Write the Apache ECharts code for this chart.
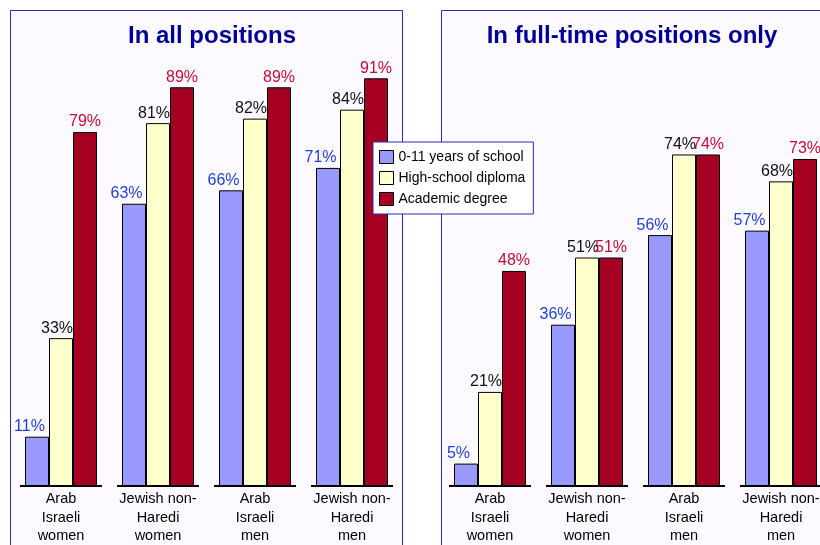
<!DOCTYPE html>
<html>
<head>
<meta charset="utf-8">
<script src="https://cdn.jsdelivr.net/npm/echarts@6/dist/echarts.min.js"></script>
<style>
  html, body { margin: 0; padding: 0; background: #fff; }
  #chart { width: 820px; height: 545px; }
</style>
</head>
<body>
<div id="chart"></div>
<script>
// categories shared by both panels
const groups = ["Arab\nIsraeli\nwomen", "Jewish non-\nHaredi\nwomen", "Arab\nIsraeli\nmen", "Jewish non-\nHaredi\nmen"];
const seriesNames = ["0-11 years of school", "High-school diploma", "Academic degree"];

// in all positions
const allBasic = [11, 63, 66, 71];
const allDiploma = [33, 81, 82, 84];
const allDegree = [79, 89, 89, 91];

// in full-time positions only
const ftBasic = [5, 36, 56, 57];
const ftDiploma = [21, 51, 74, 68];
const ftDegree = [48, 51, 74, 73];

const FONT = "Liberation Sans, Arial, sans-serif";
const barFill = ["#9999ff", "#ffffcc", "#a50021"];
const labelColor = ["#1f3fd8", "#111111", "#c00d35"];
const labelShift = [-7.5, -4, 0];

function bars(gridIdx, values, k) {
  return {
    name: seriesNames[k],
    type: "bar",
    xAxisIndex: gridIdx,
    yAxisIndex: gridIdx,
    data: values,
    barWidth: 24,
    barGap: 0,
    itemStyle: { color: barFill[k], borderColor: "#000", borderWidth: 1 },
    label: {
      show: true,
      position: "top",
      distance: 2,
      offset: [labelShift[k], 0],
      formatter: "{c}%",
      color: labelColor[k],
      fontSize: 16,
      fontFamily: FONT
    },
    emphasis: { disabled: true },
    animation: false
  };
}

// base line drawn as one short segment under each group
function baseLine(gridIdx) {
  return {
    type: "custom",
    xAxisIndex: gridIdx,
    yAxisIndex: gridIdx,
    data: groups.map((g, i) => [i, 0]),
    silent: true,
    z: 5,
    renderItem: function (params, api) {
      const p = api.coord([api.value(0), 0]);
      const bw = api.size([1, 0])[0];
      const inset = 7.5;
      return {
        type: "line",
        shape: { x1: p[0] - bw / 2 + inset, y1: p[1], x2: p[0] + bw / 2 - inset, y2: p[1] },
        style: { stroke: "#000", lineWidth: 2 }
      };
    },
    animation: false
  };
}

function catAxis(gridIdx) {
  return {
    type: "category",
    gridIndex: gridIdx,
    data: groups,
    axisLine: { show: false },
    axisTick: { show: false },
    axisLabel: {
      interval: 0,
      margin: 4,
      color: "#000",
      fontSize: 14.5,
      lineHeight: 18.5,
      fontFamily: FONT
    }
  };
}

function valAxis(gridIdx) {
  return { type: "value", gridIndex: gridIdx, min: 0, max: 100, show: false, splitLine: { show: false } };
}

const chart = echarts.init(document.getElementById("chart"));
chart.setOption({
  backgroundColor: "#fff",
  animation: false,
  graphic: [
    { type: "rect", z: -10, shape: { x: 10.5, y: 10.5, width: 392, height: 580 },
      style: { fill: "#fdfaff", stroke: "#2a2ab8", lineWidth: 1 } },
    { type: "rect", z: -10, shape: { x: 441.5, y: 10.5, width: 420, height: 580 },
      style: { fill: "#fdfaff", stroke: "#2a2ab8", lineWidth: 1 } }
  ],
  title: [
    { text: "In all positions", left: 207, top: 19, textAlign: "center",
      textStyle: { color: "#000099", fontSize: 24, fontWeight: "bold", fontFamily: FONT } },
    { text: "In full-time positions only", left: 627, top: 19, textAlign: "center",
      textStyle: { color: "#000099", fontSize: 24, fontWeight: "bold", fontFamily: FONT } }
  ],
  legend: {
    data: seriesNames,
    orient: "vertical",
    left: 373,
    top: 142,
    padding: [8, 8, 8, 6],
    icon: "rect",
    itemWidth: 14,
    itemHeight: 13,
    itemGap: 7,
    backgroundColor: "#fff",
    borderColor: "#2a2ab8",
    borderWidth: 1,
    selectedMode: false,
    z: 20,
    itemStyle: { borderColor: "#000", borderWidth: 1 },
    textStyle: { color: "#000", fontSize: 14, fontFamily: FONT }
  },
  grid: [
    { left: 12.5, width: 388, top: 38, bottom: 59, outerBoundsMode: "none" },
    { left: 441.5, width: 388, top: 38, bottom: 59, outerBoundsMode: "none" }
  ],
  xAxis: [catAxis(0), catAxis(1)],
  yAxis: [valAxis(0), valAxis(1)],
  series: [
    bars(0, allBasic, 0), bars(0, allDiploma, 1), bars(0, allDegree, 2), baseLine(0),
    bars(1, ftBasic, 0), bars(1, ftDiploma, 1), bars(1, ftDegree, 2), baseLine(1)
  ]
});
</script>
</body>
</html>
